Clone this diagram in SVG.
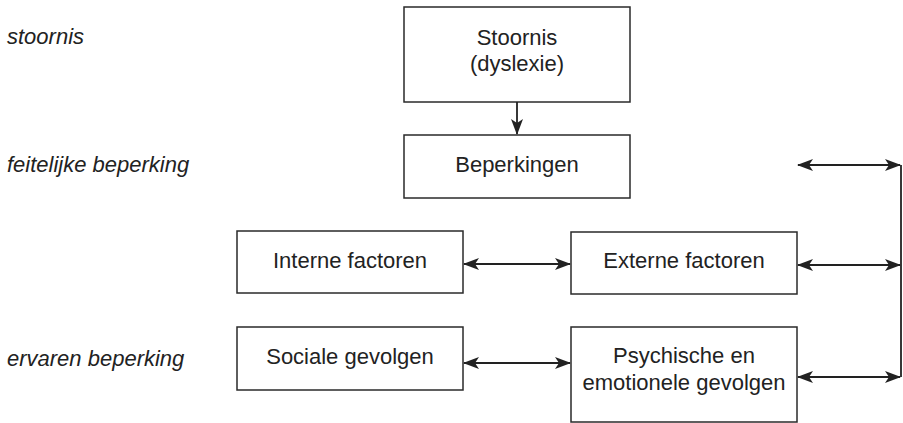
<svg xmlns="http://www.w3.org/2000/svg" width="903" height="423" viewBox="0 0 903 423">
<style>
.box{fill:#fff;stroke:#2a2a2a;stroke-width:1.5}
.t{font-family:"Liberation Sans",Arial,sans-serif;font-size:22px;fill:#222;text-anchor:middle}
.lab{font-family:"Liberation Sans",Arial,sans-serif;font-size:22px;font-style:italic;fill:#222}
.c{fill:none;stroke:#222;stroke-width:1.8}
</style>
<defs>
<marker id="ah" markerUnits="userSpaceOnUse" markerWidth="16" markerHeight="12" refX="15" refY="6" orient="auto-start-reverse" viewBox="0 0 16 12">
<path d="M0,0 L16,6 L0,12 L4,6 Z" fill="#222"/>
</marker>
</defs>
<rect width="903" height="423" fill="#fff"/>
<g id="labels">
<text class="lab" x="7" y="44">stoornis</text>
<text class="lab" x="7" y="172">feitelijke beperking</text>
<text class="lab" x="7" y="366">ervaren beperking</text>
</g>
<g id="stoornis">
<rect class="box" x="404" y="7" width="226" height="95"/>
<text class="t" x="517" y="45">Stoornis</text>
<text class="t" x="517" y="71">(dyslexie)</text>
</g>
<g id="beperkingen">
<rect class="box" x="404" y="135" width="226" height="63"/>
<text class="t" x="517" y="172">Beperkingen</text>
</g>
<g id="interne">
<rect class="box" x="237" y="231" width="226" height="62"/>
<text class="t" x="350" y="268">Interne factoren</text>
</g>
<g id="externe">
<rect class="box" x="571" y="232" width="226" height="62"/>
<text class="t" x="684" y="268">Externe factoren</text>
</g>
<g id="sociale">
<rect class="box" x="237" y="327" width="226" height="63"/>
<text class="t" x="350" y="364">Sociale gevolgen</text>
</g>
<g id="psychische">
<rect class="box" x="571" y="327" width="226" height="95"/>
<text class="t" x="684" y="363">Psychische en</text>
<text class="t" x="684" y="390">emotionele gevolgen</text>
</g>
<g id="connectors">
<line class="c" x1="517" y1="102" x2="517" y2="134" marker-end="url(#ah)"/>
<line class="c" x1="464" y1="264" x2="570" y2="264" marker-start="url(#ah)" marker-end="url(#ah)"/>
<line class="c" x1="464" y1="363" x2="570" y2="363" marker-start="url(#ah)" marker-end="url(#ah)"/>
<line class="c" x1="798" y1="165" x2="900" y2="165" marker-start="url(#ah)" marker-end="url(#ah)"/>
<line class="c" x1="798" y1="265" x2="900" y2="265" marker-start="url(#ah)" marker-end="url(#ah)"/>
<line class="c" x1="798" y1="377" x2="900" y2="377" marker-start="url(#ah)" marker-end="url(#ah)"/>
<line class="c" x1="901" y1="165" x2="901" y2="377"/>
</g>
</svg>
